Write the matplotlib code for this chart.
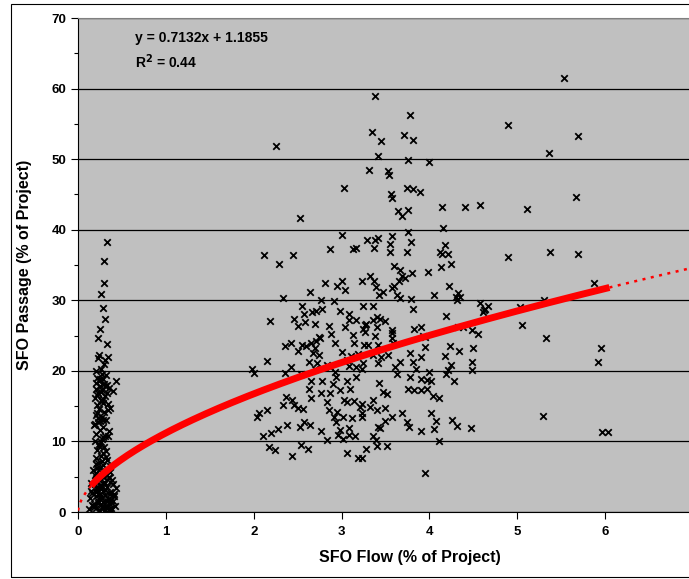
"""SFO flow vs passage scatter with power trendline."""
import numpy as np
import matplotlib
matplotlib.use("Agg")
import matplotlib.pyplot as plt
from matplotlib.ticker import MultipleLocator

plt.rcParams.update({"font.family": "Liberation Sans", "font.weight": "bold"})

# points in the low-flow column (x ~ 0.2-0.4)
cluster_flow = [0.33, 0.30, 0.30, 0.26, 0.29, 0.31, 0.25, 0.23, 0.33, 0.23, 0.31, 0.34, 0.26,
                0.43, 0.36, 0.34, 0.43,
                0.22, 0.28, 0.30, 0.25, 0.33, 0.20, 0.27, 0.35, 0.23, 0.31, 0.19, 0.26, 0.29,
                0.22, 0.34, 0.24, 0.30, 0.20, 0.27, 0.32, 0.23, 0.18, 0.29, 0.25, 0.21, 0.31,
                0.27, 0.19, 0.24, 0.30, 0.22, 0.28, 0.26, 0.20, 0.33, 0.23, 0.29, 0.25, 0.31,
                0.21, 0.27, 0.35, 0.24, 0.30, 0.19, 0.26, 0.33, 0.22, 0.28, 0.36, 0.25, 0.31,
                0.20, 0.27, 0.34, 0.23, 0.29, 0.37, 0.26, 0.32, 0.21, 0.28, 0.35, 0.24, 0.30,
                0.38, 0.18, 0.33, 0.25, 0.36, 0.22, 0.30, 0.37, 0.28, 0.34, 0.21, 0.32, 0.26,
                0.35, 0.28, 0.22, 0.33, 0.24, 0.21, 0.27, 0.30, 0.24, 0.32, 0.26, 0.29, 0.23,
                0.25, 0.16, 0.40, 0.15, 0.39, 0.17, 0.41, 0.19, 0.38, 0.14, 0.36, 0.20, 0.40,
                0.13, 0.42, 0.18, 0.23, 0.28, 0.33, 0.38, 0.16, 0.21, 0.26, 0.31, 0.36, 0.41,
                0.15, 0.20, 0.25, 0.30, 0.35, 0.40, 0.17, 0.22, 0.27, 0.32, 0.37, 0.24, 0.29,
                0.19, 0.34, 0.27, 0.22, 0.31, 0.25]
cluster_passage = [38.2, 35.5, 32.4, 30.9, 28.9, 27.3, 25.9, 24.7, 23.8, 21.8, 21.6, 22.0, 20.3,
                   18.6, 14.8, 10.7, 3.4,
                   19.0, 18.8, 18.2, 17.9, 18.0, 17.5, 17.3, 17.6, 16.8, 16.5, 16.2, 15.9, 15.5,
                   15.1, 15.3, 14.6, 14.2, 13.8, 13.5, 13.1, 12.7, 12.3, 12.0, 11.6, 11.1, 10.8,
                   10.4, 10.0, 9.6, 9.2, 8.8, 8.4, 8.0, 7.6, 7.4, 7.0, 6.6, 6.2, 5.8,
                   5.5, 5.1, 4.9, 4.6, 4.3, 4.0, 3.8, 3.5, 3.2, 3.0, 2.8, 2.6, 2.4,
                   2.2, 2.0, 1.8, 1.6, 1.4, 1.2, 1.0, 0.8, 0.6, 0.5, 0.4, 0.3, 0.2,
                   0.6, 1.1, 1.5, 2.1, 2.5, 3.6, 3.9, 4.2, 5.4, 6.0, 6.8, 8.6, 9.9,
                   11.5, 13.0, 14.0, 16.9, 18.5, 20.0, 19.6, 21.0, 22.3, 19.4, 17.0, 16.0, 13.3,
                   12.9, 1.0, 1.5, 3.0, 4.5, 0.8, 2.3, 5.2, 0.3, 2.0, 6.5, 18.3, 17.2,
                   0.4, 0.9, 0.7, 1.3, 0.9, 0.5, 1.7, 2.7, 2.9, 3.3, 3.1, 1.6, 2.6,
                   4.1, 4.4, 3.7, 5.0, 4.8, 4.0, 5.9, 6.3, 7.2, 7.8, 5.6, 9.4, 10.6,
                   12.5, 14.4, 15.7, 16.6, 17.8, 18.9]

# points in the main cloud (x ~ 2-6)
cloud_flow = [2.25, 3.03, 2.53, 3.31,
              3.38, 3.78, 3.35, 3.45, 3.71, 3.81, 3.41, 3.76, 3.99, 3.53, 3.54, 3.75, 3.81, 3.89,
              3.56, 3.57, 3.64, 3.69, 3.76, 4.14, 4.41, 4.58,
              5.53, 4.89, 5.69, 5.36, 5.11, 5.67,
              3.01, 3.29, 2.87, 3.13, 3.17, 2.12, 2.45, 2.29, 2.81, 3.01, 2.95, 3.04, 3.23, 3.32,
              2.64, 2.33, 2.77, 2.91, 3.24, 2.55, 2.78, 2.71, 2.66, 2.57, 2.98, 3.08, 2.18, 2.46,
              2.58, 2.70, 2.51, 2.86, 3.08, 3.17, 3.04, 3.27, 2.88, 3.13, 2.74, 3.27,
              4.16, 3.76, 3.38, 3.42, 3.58, 3.37, 3.55, 3.79, 3.55, 3.75, 4.18, 4.12, 4.14, 4.21,
              4.25, 4.13, 3.60, 3.67, 3.80, 3.98, 3.69, 3.37, 3.65, 3.72, 3.39, 3.57, 3.60, 3.47,
              3.43, 3.63, 4.22, 4.05, 4.33, 4.30, 4.35, 4.32, 3.67, 3.79, 3.36, 3.81, 4.58, 4.62,
              4.19, 3.40, 3.44, 3.36, 3.49, 3.28, 3.25, 3.40, 3.58, 3.38, 3.83, 3.91, 3.93, 4.33,
              4.38, 4.48, 4.55, 3.57,
              4.89, 5.37, 5.69, 5.87, 5.30, 5.03, 5.05, 5.33, 4.67, 4.61, 4.63,
              2.75, 2.92, 3.14, 3.26, 2.36, 2.42, 2.55, 2.59, 2.65, 2.71, 2.70, 2.50, 2.68, 2.74,
              3.01, 3.06, 3.11, 3.19, 2.15, 2.63, 2.72, 2.84, 2.87, 1.98, 2.00, 2.36, 2.43, 2.54,
              2.70, 2.92, 3.08, 3.16, 2.94, 2.65, 2.78, 2.90, 3.06, 3.17, 2.63, 2.77, 2.87, 2.98,
              3.10, 2.37, 2.44, 2.33, 2.46, 2.51, 2.56, 2.65, 2.83, 3.03, 3.06, 3.14, 3.23, 2.06,
              2.04, 2.15, 2.86, 2.95, 2.91, 2.94, 3.02, 3.12, 3.23, 2.57, 2.64, 2.38, 2.53, 2.28,
              2.20, 2.11, 2.77, 2.98, 3.08, 2.96, 3.02, 3.09, 3.15, 2.83, 2.17, 2.24, 2.54, 2.62,
              2.44, 3.06, 3.28, 3.19,
              3.57, 3.30, 3.42, 3.59, 3.95, 3.95, 4.24, 4.34, 4.50, 3.36, 3.45, 3.53, 3.78, 3.91,
              4.18, 3.25, 3.42, 3.66, 3.81, 4.25, 4.49, 3.23, 3.61, 3.85, 4.21, 4.48, 3.63, 3.78,
              4.00, 3.91, 3.97, 4.02, 4.28, 4.19, 3.43, 3.76, 3.83, 3.91, 3.97, 3.47, 3.52, 4.04,
              4.11, 3.36, 3.32, 3.40, 3.49, 3.23, 3.57, 3.49, 3.69, 3.74, 3.77, 4.02, 4.07, 4.05,
              3.90, 4.26, 4.32, 4.47, 3.42, 3.44, 3.36, 3.39, 3.40, 3.52, 4.11, 3.23, 3.95, 3.21,
              5.95, 5.92, 5.29, 5.96, 6.03]
cloud_passage = [51.9, 45.9, 41.6, 48.5,
                 59.0, 56.2, 53.8, 52.6, 53.4, 52.7, 50.4, 49.9, 49.6, 48.3, 47.7, 45.9, 45.8, 45.4,
                 45.0, 44.5, 42.6, 41.9, 42.8, 43.2, 43.2, 43.5,
                 61.5, 54.9, 53.3, 50.9, 42.9, 44.6,
                 39.2, 38.5, 37.3, 37.2, 37.4, 36.4, 36.4, 35.1, 32.4, 32.8, 32.0, 31.5, 32.8, 33.4,
                 31.2, 30.3, 30.1, 29.9, 29.2, 29.2, 28.7, 28.5, 28.4, 28.0, 28.5, 28.1, 27.0, 27.3,
                 26.9, 26.7, 26.3, 26.3, 27.2, 27.2, 26.2, 26.5, 25.2, 25.1, 24.8, 25.5,
                 40.3, 39.7, 38.6, 38.8, 39.1, 37.4, 38.0, 38.3, 36.8, 36.9, 37.9, 36.9, 36.5, 36.5,
                 35.2, 34.7, 34.8, 34.3, 33.8, 34.0, 33.4, 32.7, 32.8, 33.1, 31.9, 31.8, 32.0, 31.2,
                 30.7, 30.7, 32.0, 30.7, 31.1, 30.4, 30.4, 30.1, 30.3, 30.2, 29.2, 28.7, 29.6, 28.6,
                 27.8, 27.6, 27.4, 27.2, 27.0, 26.7, 26.0, 26.2, 25.8, 24.9, 26.0, 26.2, 24.9, 26.2,
                 26.2, 25.8, 25.2, 24.7,
                 36.1, 36.8, 36.6, 32.4, 30.1, 29.0, 26.5, 24.7, 29.2, 28.4, 28.7,
                 24.6, 24.0, 23.9, 23.7, 23.5, 23.9, 23.7, 23.5, 23.9, 24.3, 23.2, 22.8, 22.5, 22.3,
                 22.7, 21.5, 22.1, 22.4, 21.4, 21.3, 21.1, 20.9, 20.6, 20.3, 19.7, 19.7, 20.5, 19.6,
                 20.2, 19.8, 20.7, 20.5, 19.2, 18.5, 18.5, 18.2, 18.5, 19.2, 17.5, 16.9, 16.9, 17.3,
                 17.5, 16.3, 15.9, 15.2, 15.2, 14.8, 14.6, 16.1, 15.6, 15.9, 15.6, 15.7, 15.3, 14.0,
                 13.4, 14.4, 14.4, 14.2, 13.4, 12.8, 13.4, 13.3, 14.1, 12.8, 12.4, 12.3, 12.1, 11.7,
                 11.2, 10.8, 11.5, 11.6, 11.9, 10.9, 10.4, 10.9, 10.8, 10.2, 9.2, 8.8, 9.5, 8.9,
                 7.9, 8.4, 8.9, 7.7,
                 25.3, 23.7, 23.7, 23.9, 23.4, 24.8, 23.5, 22.8, 23.3, 22.2, 22.0, 22.2, 22.5, 21.9,
                 22.1, 21.1, 21.1, 21.3, 21.3, 20.8, 21.3, 20.3, 20.6, 20.3, 20.1, 20.1, 19.6, 19.2,
                 19.9, 18.9, 18.7, 18.5, 18.5, 19.6, 18.3, 17.5, 17.3, 17.3, 17.5, 17.0, 16.7, 16.4,
                 16.1, 15.9, 14.9, 14.4, 14.7, 13.5, 13.5, 12.9, 14.1, 12.8, 12.1, 14.0, 12.9, 11.7,
                 11.5, 13.1, 12.2, 11.9, 12.1, 11.9, 10.8, 10.2, 9.3, 9.3, 10.0, 7.6, 5.5, 14.9,
                 23.3, 21.3, 13.6, 11.4, 11.3]

# power trendline parameters, and where the solid part runs
trend_a, trend_b = 11.2, 0.58
trend_lo, trend_hi = 0.15, 6.05

flow = np.array(cluster_flow + cloud_flow)
passage = np.array(cluster_passage + cloud_passage)

fig = plt.figure(figsize=(6.89, 5.79), dpi=100)
ax = fig.add_axes([0.1132, 0.1157, 0.8925, 0.8532])
ax.set_facecolor("#C0C0C0")

ax.set_xlim(0, 7)
ax.set_ylim(0, 70)
ax.yaxis.set_major_locator(MultipleLocator(10))
ax.yaxis.set_minor_locator(MultipleLocator(5))
ax.set_xticks(range(0, 7))
ax.grid(axis="y", which="major", color="black", lw=0.9)
ax.set_axisbelow(True)

for side in ["top", "right"]:
    ax.spines[side].set_color("#808080")
for side in ["left", "bottom"]:
    ax.spines[side].set_color("black")

ax.scatter(flow, passage, marker="x", s=22, color="black", lw=1.3, zorder=3)

xs = np.linspace(trend_lo, trend_hi, 200)
ax.plot(xs, trend_a * xs ** trend_b, color="#FF0000", lw=5, solid_capstyle="butt", zorder=4)
for lo, hi in [(0.0, trend_lo), (trend_hi, 7.0)]:
    xe = np.linspace(max(lo, 1e-3), hi, 60)
    ax.plot(xe, trend_a * xe ** trend_b, color="#FF0000", lw=1.8,
            ls=(0, (1.2, 2.2)), zorder=4)

ax.tick_params(axis="both", which="major", length=5, width=0.8, labelsize=9.5)
ax.tick_params(axis="x", which="major", pad=5)
ax.tick_params(axis="y", which="minor", length=3, width=0.8)
for lab in ax.get_xticklabels() + ax.get_yticklabels():
    lab.set_fontweight("bold")

ax.set_xlabel("SFO Flow (% of Project)", fontsize=11.5, fontweight="bold", labelpad=9)
ax.xaxis.label.set_x(0.54)
ax.set_ylabel("SFO Passage (% of Project)", fontsize=11.5, fontweight="bold", labelpad=14)

ax.text(0.093, 0.96, "y = 0.7132x + 1.1855", transform=ax.transAxes,
        fontsize=10, fontweight="bold", va="center")
ax.text(0.093, 0.911, "R$^2$ = 0.44", transform=ax.transAxes,
        fontsize=10, fontweight="bold", va="center")

# outer chart border
fig.patches.append(plt.Rectangle((11 / 689, 2 / 579), 1.0, 573 / 579, transform=fig.transFigure,
                                 fill=False, edgecolor="black", lw=0.8))

fig.savefig("out.png", dpi=100)
